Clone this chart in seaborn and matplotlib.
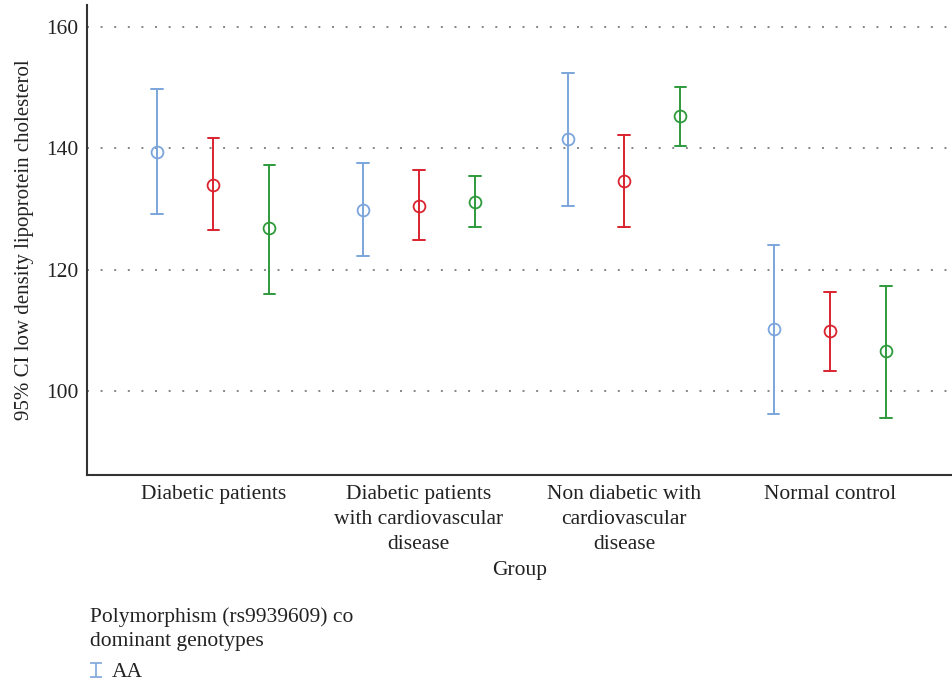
import numpy as np
import pandas as pd
import seaborn as sns
import matplotlib.pyplot as plt
from matplotlib.lines import Line2D
from matplotlib.path import Path

# Group categories and genotype levels
groups = [
    "Diabetic patients",
    "Diabetic patients\nwith cardiovascular\ndisease",
    "Non diabetic with\ncardiovascular\ndisease",
    "Normal control",
]
genotypes = ["AA", "AG", "GG"]

# Mean LDL-C and 95% CI bounds per group, one list per genotype
mean_aa = [139.4, 129.8, 141.5, 110.2]
low_aa = [129.2, 122.2, 130.5, 96.2]
high_aa = [149.8, 137.6, 152.4, 124.1]

mean_ag = [134.0, 130.5, 134.6, 109.9]
low_ag = [126.5, 124.9, 127.0, 103.3]
high_ag = [141.7, 136.4, 142.2, 116.3]

mean_gg = [126.9, 131.1, 145.3, 106.6]
low_gg = [116.0, 127.0, 140.4, 95.5]
high_gg = [137.2, 135.4, 150.1, 117.3]

yticks = [100, 120, 140, 160]
colors = ["#7ba5dc", "#d9242f", "#2f9a3b"]

# Long-form table: each (group, genotype) cell holds its lower bound, mean and upper bound
rows = []
for g, (m, lo, hi) in zip(genotypes, [(mean_aa, low_aa, high_aa),
                                       (mean_ag, low_ag, high_ag),
                                       (mean_gg, low_gg, high_gg)]):
    for i, grp in enumerate(groups):
        for v in (lo[i], m[i], hi[i]):
            rows.append({"Group": grp, "Genotype": g, "LDL": v})
df = pd.DataFrame(rows)

sns.set_theme(style="white")
plt.rcParams["font.family"] = ["Liberation Serif", "DejaVu Serif"]
FS = 15.5
TXT = "#222222"

fig = plt.figure(figsize=(9.53, 6.84), dpi=100)
ax = fig.add_axes([0.0913, 0.3056, 0.9087, 0.687])

sns.pointplot(
    data=df, x="Group", y="LDL", hue="Genotype", order=groups,
    hue_order=genotypes, palette=colors,
    estimator="median", errorbar=lambda v: (v.min(), v.max()),
    dodge=0.546, linestyle="none", markers="o", capsize=0.057,
    err_kws={"linewidth": 1.4}, markersize=8.5, markerfacecolor="none",
    markeredgewidth=1.3, legend=False, ax=ax,
)

ax.set_xlim(-0.615, 3.6)
ax.set_ylim(86.15, 163.63)
ax.set_yticks(yticks)
for y in yticks:
    ax.axhline(y, color="#858585", linestyle=(0, (1, 6)), linewidth=1.4, zorder=0)

for side in ("top", "right"):
    ax.spines[side].set_visible(False)
for side in ("left", "bottom"):
    ax.spines[side].set_color("#333333")
    ax.spines[side].set_linewidth(1.5)

ax.tick_params(axis="both", length=0, labelsize=FS, colors=TXT)
ax.tick_params(axis="y", pad=6)
ax.tick_params(axis="x", pad=7)
for lbl in ax.get_xticklabels():
    lbl.set_linespacing(1.45)
ax.set_xlabel("Group", fontsize=FS, color=TXT, labelpad=5)
ax.set_ylabel("95% CI low density lipoprotein cholesterol", fontsize=15, color=TXT)
ax.yaxis.set_label_coords(-0.0615, 0.5)

# Legend with an error-bar glyph
ibeam = Path([(-1.3, -1.6), (1.3, -1.6), (0, -1.6), (0, 1.6), (-1.3, 1.6), (1.3, 1.6)],
             [Path.MOVETO, Path.LINETO, Path.MOVETO, Path.LINETO, Path.MOVETO, Path.LINETO])
handles = [Line2D([], [], linestyle="none", marker=ibeam, markersize=10,
                  markeredgecolor=colors[0], markerfacecolor="none", markeredgewidth=1.2)]
leg = fig.legend(handles, genotypes[:1],
                 title="Polymorphism (rs9939609) co\ndominant genotypes",
                 loc="upper left", bbox_to_anchor=(0.0894, 0.118), frameon=False,
                 fontsize=FS, title_fontsize=FS, handlelength=0.6,
                 handletextpad=0.45, borderaxespad=0, borderpad=0.2,
                 labelspacing=0.55)
leg._legend_box.align = "left"
leg.get_title().set_linespacing(1.3)
for t in leg.get_texts() + [leg.get_title()]:
    t.set_color(TXT)

fig.savefig("out.png", dpi=100)
